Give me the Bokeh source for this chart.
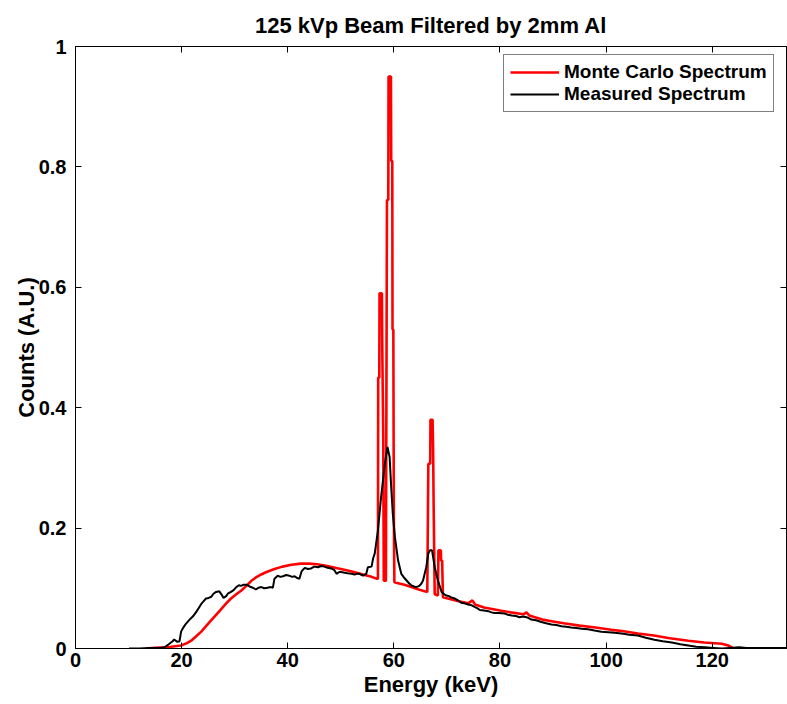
from bokeh.plotting import figure
from bokeh.models import Range1d, FixedTicker, NumeralTickFormatter, LinearAxis, Legend, LegendItem
from bokeh.embed import file_html
from bokeh.resources import INLINE

# ---- Monte Carlo spectrum (red) ----
mc_energy = [13.3, 15.0, 16.8, 18.0, 19.9, 21.0, 21.8, 22.7, 23.7, 24.6, 25.6, 26.5, 27.5, 28.4,
             29.3, 30.3, 31.2, 32.2, 33.1, 34.0, 35.0, 36.0, 37.5, 39.0, 40.7, 42.5, 44.0, 45.5,
             47.0, 48.5, 50.0, 51.5, 53.0, 54.5, 55.8, 56.8, 57.0,
             57.05, 57.25, 57.3, 57.75, 57.8, 58.0, 58.1, 58.5,
             58.7, 58.95, 59.0, 59.45, 59.5, 59.7, 59.75, 59.9, 60.0, 60.1,
             61.0, 62.0, 63.0, 64.0, 65.0, 66.3,
             66.5, 66.85, 66.9, 67.3, 67.4, 67.5, 67.7, 68.3,
             68.4, 68.85, 68.9, 69.1, 69.25, 69.8,
             72.0, 74.0, 74.8, 75.3, 77.0, 80.0, 82.0, 84.5, 85.0, 85.5, 88.0, 90.0, 92.0,
             95.0, 98.0, 101.0, 103.0, 106.0, 109.0, 112.0, 115.5, 118.5, 121.8, 123.0, 124.0]
mc_counts = [0.0, 0.001, 0.002, 0.003, 0.005, 0.009, 0.013, 0.020, 0.028, 0.037, 0.047, 0.056, 0.066, 0.075,
             0.083, 0.090, 0.096, 0.104, 0.112, 0.118, 0.123, 0.127, 0.132, 0.136, 0.139, 0.141, 0.141, 0.140,
             0.138, 0.135, 0.132, 0.129, 0.126, 0.122, 0.119, 0.116, 0.116,
             0.45, 0.45, 0.59, 0.59, 0.515, 0.35, 0.113, 0.112,
             0.745, 0.745, 0.95, 0.95, 0.81, 0.81, 0.53, 0.53, 0.215, 0.110,
             0.108, 0.106, 0.103, 0.100, 0.097, 0.094,
             0.307, 0.307, 0.38, 0.38, 0.33, 0.235, 0.090, 0.088,
             0.163, 0.163, 0.146, 0.146, 0.085, 0.084,
             0.079, 0.075, 0.080, 0.073, 0.068, 0.063, 0.060, 0.057, 0.060, 0.055, 0.048, 0.045, 0.042,
             0.038, 0.035, 0.031, 0.029, 0.025, 0.0216, 0.017, 0.013, 0.010, 0.008, 0.005, 0.0]

# ---- Measured spectrum (black) ----
meas_energy = [10.1, 12.0, 14.0, 16.0, 16.8, 17.7, 18.3, 18.6, 19.2, 19.6, 19.9, 20.2, 20.8, 21.5,
               22.1, 22.7, 23.2, 23.7, 24.2, 24.6, 25.1, 25.6, 26.0, 26.5, 27.1, 27.5, 27.9, 28.4,
               28.7, 29.3, 29.8, 30.3, 30.8, 31.2, 31.7, 32.2, 32.8, 33.4, 34.0, 34.5, 35.0, 35.6,
               36.2, 36.8, 37.2, 37.5, 38.1, 38.6, 39.1, 39.7, 40.3, 40.8, 41.3, 41.8, 42.2, 42.6,
               43.2, 43.8, 44.4, 45.0, 45.7, 46.3, 46.9, 47.5, 48.2, 48.8, 49.2, 49.7, 50.1, 50.7,
               51.3, 52.0, 52.6, 53.0, 53.5, 54.2, 54.8, 55.1, 55.8, 56.1, 56.4, 57.0, 57.6, 58.3,
               58.8, 59.2, 59.5, 59.8, 60.2, 60.8, 61.4, 61.9, 62.4, 62.9, 63.3, 63.8, 64.2, 64.8,
               65.2, 65.5, 66.1, 66.5, 66.8, 67.2, 67.7, 68.3, 69.0, 69.5, 69.9, 70.4, 70.8, 71.5,
               72.1, 72.7, 73.3, 74.0, 74.6, 75.2, 75.7, 76.2, 77.0, 77.8, 78.4, 79.0, 79.8, 80.9,
               81.5, 82.2, 83.0, 83.7, 84.3, 85.0, 85.5, 85.9, 86.8, 87.8, 88.7, 89.7, 90.6, 91.6,
               92.5, 93.4, 94.4, 95.4, 96.6, 97.8, 99.1, 100.4, 101.6, 102.9, 104.4, 106.0, 107.5,
               109.1, 110.7, 112.4, 114.0, 115.5, 117.0, 118.6, 120.2, 121.8, 123.4, 125.0, 126.5,
               128.0, 130.0, 132.0, 134.0]
meas_counts = [0.0, 0.0, 0.001, 0.001, 0.002, 0.008, 0.012, 0.015, 0.011, 0.012, 0.028, 0.033, 0.041, 0.048,
               0.053, 0.060, 0.067, 0.074, 0.079, 0.083, 0.084, 0.086, 0.091, 0.094, 0.095, 0.090, 0.084, 0.087,
               0.091, 0.094, 0.097, 0.102, 0.105, 0.104, 0.106, 0.106, 0.103, 0.101, 0.098, 0.101, 0.102, 0.100,
               0.101, 0.102, 0.101, 0.116, 0.121, 0.119, 0.120, 0.122, 0.121, 0.119, 0.120, 0.117, 0.116, 0.128,
               0.134, 0.132, 0.133, 0.136, 0.135, 0.137, 0.136, 0.134, 0.133, 0.130, 0.124, 0.127, 0.127, 0.126,
               0.125, 0.124, 0.123, 0.124, 0.124, 0.121, 0.124, 0.135, 0.136, 0.150, 0.158, 0.196, 0.252, 0.307,
               0.335, 0.318, 0.268, 0.224, 0.185, 0.146, 0.124, 0.118, 0.113, 0.108, 0.105, 0.103, 0.102, 0.104,
               0.108, 0.113, 0.135, 0.158, 0.163, 0.163, 0.135, 0.113, 0.094, 0.090, 0.088, 0.087, 0.085, 0.083,
               0.080, 0.076, 0.075, 0.073, 0.072, 0.069, 0.067, 0.064, 0.063, 0.062, 0.060, 0.059, 0.059, 0.058,
               0.056, 0.055, 0.054, 0.052, 0.053, 0.052, 0.050, 0.048, 0.047, 0.044, 0.042, 0.040, 0.039, 0.037,
               0.036, 0.035, 0.034, 0.033, 0.032, 0.030, 0.028, 0.027, 0.026, 0.025, 0.023, 0.0216, 0.018,
               0.0144, 0.012, 0.010, 0.007, 0.005, 0.003, 0.002, 0.001, 0.0, 0.001, 0.002, 0.001,
               0.001, 0.001, 0.001, 0.001]

x_ticks = [0, 20, 40, 60, 80, 100, 120]
y_ticks = [0, 0.2, 0.4, 0.6, 0.8, 1.0]

FONT = "Liberation Sans"

p = figure(width=787, height=704, output_backend="svg", toolbar_location=None,
           x_range=Range1d(0, 134), y_range=Range1d(0, 1),
           min_border_left=75, min_border_right=1, min_border_top=46, min_border_bottom=56,
           background_fill_color="white", border_fill_color="white")
p.grid.visible = False
p.outline_line_color = "black"
p.outline_line_width = 1

p.title.text = "125 kVp Beam Filtered by 2mm Al"
p.title.text_font = FONT
p.title.text_font_size = "22px"
p.title.text_font_style = "bold"
p.title.text_color = "black"
p.title.align = "center"
p.title.standoff = 17

for ax, ticks in ((p.xaxis[0], x_ticks), (p.yaxis[0], y_ticks)):
    ax.ticker = FixedTicker(ticks=ticks)
    ax.major_tick_in = 6
    ax.major_tick_out = 0
    ax.minor_tick_line_color = None
    ax.axis_line_color = "black"
    ax.major_tick_line_color = "black"
    ax.major_label_text_font = FONT
    ax.major_label_text_font_size = "20px"
    ax.major_label_text_font_style = "bold"
    ax.major_label_text_color = "black"
    ax.axis_label_text_font = FONT
    ax.axis_label_text_font_size = "22px"
    ax.axis_label_text_font_style = "bold"
    ax.axis_label_text_color = "black"

p.xaxis[0].axis_label = "Energy (keV)"
p.xaxis[0].major_label_standoff = 4
p.xaxis[0].axis_label_standoff = 2
p.yaxis[0].axis_label = "Counts (A.U.)"
p.yaxis[0].formatter = NumeralTickFormatter(format="0.[0]")
p.yaxis[0].major_label_standoff = 9
p.yaxis[0].axis_label_standoff = -3

# mirrored ticks on top and right (MATLAB box), no labels
top_ax = LinearAxis(ticker=FixedTicker(ticks=x_ticks), major_tick_in=6, major_tick_out=0,
                    minor_tick_line_color=None, major_label_text_color=None,
                    major_label_text_font_size="1px", major_label_standoff=0)
right_ax = LinearAxis(ticker=FixedTicker(ticks=y_ticks), major_tick_in=6, major_tick_out=0,
                      minor_tick_line_color=None, major_label_text_color=None,
                      major_label_text_font_size="1px", major_label_standoff=0)
p.add_layout(top_ax, "above")
p.add_layout(right_ax, "right")

r_mc = p.line(mc_energy, mc_counts, line_color="#ff0000", line_width=2.6)
r_meas = p.line(meas_energy, meas_counts, line_color="black", line_width=2)

legend = Legend(items=[LegendItem(label="Monte Carlo Spectrum", renderers=[r_mc]),
                       LegendItem(label="Measured Spectrum", renderers=[r_meas])],
                location=(428, 536))
legend.label_text_font = FONT
legend.label_text_font_size = "19px"
legend.label_text_font_style = "bold"
legend.label_text_color = "black"
legend.glyph_width = 49
legend.glyph_height = 20
legend.label_height = 20
legend.label_standoff = 5
legend.spacing = 0
legend.padding = 6
legend.margin = 0
legend.border_line_color = "black"
legend.border_line_width = 1
legend.background_fill_color = "white"
p.add_layout(legend, "center")

open("out.html", "w").write(file_html(p, INLINE))
